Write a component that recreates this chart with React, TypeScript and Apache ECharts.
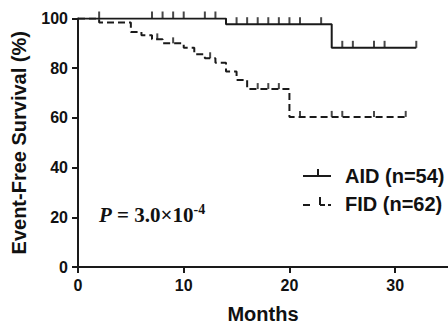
import React, { useEffect, useRef } from "react";
import * as echarts from "echarts";

// Kaplan-Meier step data (months, survival %)
const aidTimes = [0, 14, 24, 32];
const aidSurv = [100, 97.7, 88.2, 88.2];
const aidCensor = [2, 7, 8, 9, 10, 12, 13, 15, 16, 17, 18, 19, 20, 21, 23, 25, 26, 28, 29, 32];

const fidTimes = [0, 2, 5, 6, 7, 8, 10, 11, 12, 13, 14, 15, 16, 20, 31];
const fidSurv = [100, 98.4, 94.6, 93.3, 91.6, 90.0, 88.2, 85.6, 84.0, 82.2, 78.7, 75.3, 71.6, 60.4, 60.4];
const fidCensor = [7.5, 9, 12.5, 17, 18, 19, 21, 24, 25, 28, 31];

const xTicks = [0, 10, 20, 30];
const yTicks = [0, 20, 40, 60, 80, 100];

const legendNames = ["AID (n=54)", "FID (n=62)"];

const INK = "#1a1a1a";
const SANS = "Liberation Sans, Arial, sans-serif";
const SERIF = "Liberation Serif, Times New Roman, serif";

function stepAt(times: number[], surv: number[], t: number): number {
  let v = surv[0];
  for (let i = 0; i < times.length; i++) {
    if (times[i] <= t) v = surv[i];
  }
  return v;
}

export default function App() {
  const ref = useRef<HTMLDivElement>(null);
  useEffect(() => {
    if (!ref.current) return;
    const chart = echarts.init(ref.current, undefined, { renderer: "svg" });
    const aidLine = aidTimes.map((t, i) => [t, aidSurv[i]]);
    const fidLine = fidTimes.map((t, i) => [t, fidSurv[i]]);
    const aidMarks = aidCensor.map((t) => [t, stepAt(aidTimes, aidSurv, t)]);
    const fidMarks = fidCensor.map((t) => [t, stepAt(fidTimes, fidSurv, t)]);

    chart.setOption({
      animation: false,
      grid: { left: 78, top: 18.5, right: -4, bottom: 60.7, containLabel: false },
      xAxis: {
        type: "value",
        min: xTicks[0],
        max: 35,
        interval: 10,
        axisLine: { show: true, lineStyle: { color: INK, width: 2 } },
        axisTick: { show: true, length: 6, lineStyle: { color: INK, width: 2 } },
        axisLabel: {
          color: "#111",
          fontFamily: SANS,
          fontWeight: "bold",
          fontSize: 16,
          margin: 10,
          showMaxLabel: false,
        },
        splitLine: { show: false },
        name: "Months",
        nameLocation: "middle",
        nameGap: 37,
        nameTextStyle: { color: "#111", fontFamily: SANS, fontWeight: "bold", fontSize: 20 },
      },
      yAxis: {
        type: "value",
        min: yTicks[0],
        max: yTicks[yTicks.length - 1],
        interval: 20,
        axisLine: { show: true, lineStyle: { color: INK, width: 2 } },
        axisTick: { show: true, length: 6, lineStyle: { color: INK, width: 2 } },
        axisLabel: {
          color: "#111",
          fontFamily: SANS,
          fontWeight: "bold",
          fontSize: 16,
          margin: 10,
        },
        splitLine: { show: false },
        name: "Event-Free Survival (%)",
        nameLocation: "middle",
        nameGap: 49,
        nameTextStyle: { color: "#111", fontFamily: SANS, fontWeight: "bold", fontSize: 20 },
      },
      series: [
        {
          name: legendNames[0],
          type: "line",
          step: "end",
          data: aidLine,
          symbol: "none",
          lineStyle: { color: INK, width: 2 },
          z: 3,
        },
        {
          name: legendNames[1],
          type: "line",
          step: "end",
          data: fidLine,
          symbol: "none",
          lineStyle: { color: INK, width: 2, type: [7, 4] },
          z: 2,
        },
        {
          type: "scatter",
          data: aidMarks,
          symbol: "rect",
          symbolSize: [2, 7],
          symbolOffset: [0, -3.5],
          itemStyle: { color: INK },
          z: 4,
        },
        {
          type: "scatter",
          data: fidMarks,
          symbol: "rect",
          symbolSize: [2, 6],
          symbolOffset: [0, -3],
          itemStyle: { color: INK },
          z: 4,
        },
      ],
      graphic: [
        // legend AID
        { type: "line", shape: { x1: 303, y1: 176, x2: 331, y2: 176 }, style: { stroke: INK, lineWidth: 2 } },
        { type: "line", shape: { x1: 318, y1: 169, x2: 318, y2: 176 }, style: { stroke: INK, lineWidth: 2 } },
        {
          type: "text",
          x: 345,
          y: 176,
          style: { text: legendNames[0], fill: "#111", font: "bold 20px " + SANS, textVerticalAlign: "middle" },
        },
        // legend FID
        { type: "line", shape: { x1: 303, y1: 205, x2: 310, y2: 205 }, style: { stroke: INK, lineWidth: 2 } },
        { type: "line", shape: { x1: 320, y1: 197, x2: 320, y2: 205 }, style: { stroke: INK, lineWidth: 2 } },
        { type: "line", shape: { x1: 320, y1: 205, x2: 325, y2: 205 }, style: { stroke: INK, lineWidth: 2 } },
        { type: "line", shape: { x1: 328, y1: 205, x2: 331, y2: 205 }, style: { stroke: INK, lineWidth: 2 } },
        {
          type: "text",
          x: 345,
          y: 204,
          style: { text: legendNames[1], fill: "#111", font: "bold 20px " + SANS, textVerticalAlign: "middle" },
        },
        // P value
        {
          type: "text",
          x: 99,
          y: 202,
          style: {
            text: "{p|P}{n| = 3.0×10}{s|-4}",
            rich: {
              p: { fontFamily: SERIF, fontStyle: "italic", fontWeight: "bold", fontSize: 21, lineHeight: 25, fill: "#111" },
              n: { fontFamily: SERIF, fontWeight: "bold", fontSize: 21, lineHeight: 25, fill: "#111" },
              s: { fontFamily: SERIF, fontWeight: "bold", fontSize: 14, lineHeight: 14, verticalAlign: "top", fill: "#111" },
            },
          },
        },
      ],
    });
    return () => chart.dispose();
  }, []);
  return <div ref={ref} style={{ width: 448, height: 329, position: "absolute", left: 0, top: 0 }} />;
}
